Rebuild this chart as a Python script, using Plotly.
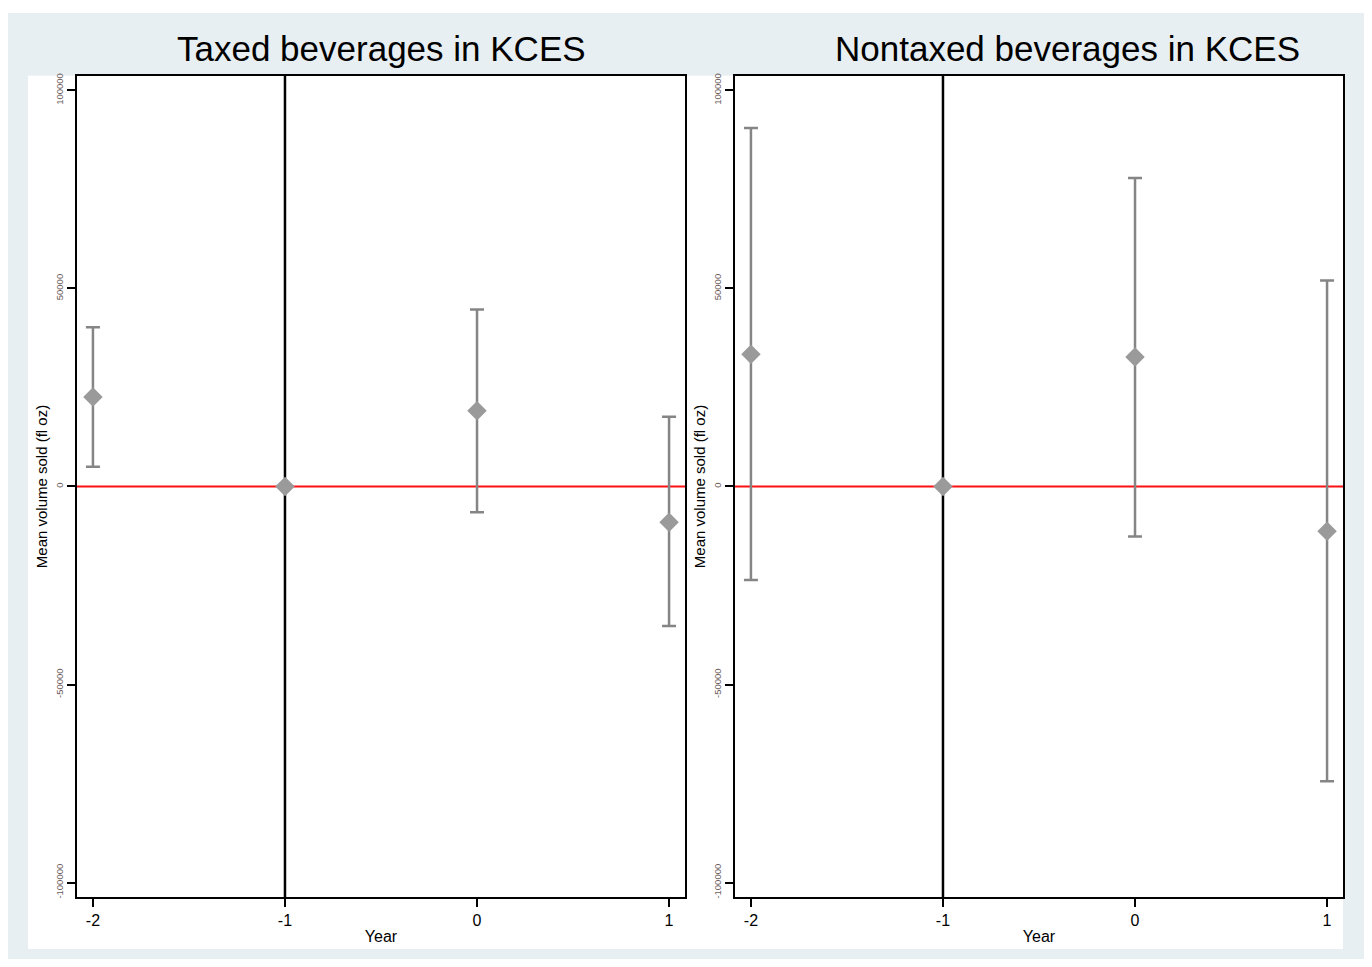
import plotly.graph_objects as go
from plotly.subplots import make_subplots

# ---- data ----
years = [-2, -1, 0, 1]
taxed_mean = [22600, 0, 19100, -9000]
taxed_upper = [40200, 0, 44700, 17600]
taxed_lower = [5000, 0, -6500, -35200]

nontaxed_mean = [33400, 0, 32700, -11300]
nontaxed_upper = [90500, 0, 77900, 52000]
nontaxed_lower = [-23600, 0, -12600, -74400]

titles = ["Taxed beverages in KCES", "Nontaxed beverages in KCES"]
y_ticks = [-100000, -50000, 0, 50000, 100000]
x_ticks = [-2, -1, 0, 1]

OFF = 8  # page body margin
W, H = 1372 - 2 * OFF, 967 - 2 * OFF
fig = make_subplots(rows=1, cols=2)

def px_x(p):
    return (p - OFF) / W

def px_y(p):
    return 1 - (p - OFF) / H

FONT = "Liberation Sans, Arial, sans-serif"

# background panels (drawn first so later shapes sit above them)
fig.add_shape(type="rect", xref="paper", yref="paper",
              x0=px_x(8), x1=px_x(1365), y0=px_y(965), y1=px_y(10),
              fillcolor="#e8eff2", line=dict(width=0), layer="below")
fig.add_shape(type="rect", xref="paper", yref="paper",
              x0=px_x(28), x1=px_x(1343), y0=px_y(950), y1=px_y(73),
              fillcolor="white", line=dict(width=0), layer="below")

panels = [
    (taxed_mean, taxed_upper, taxed_lower, (77, 685), 381),
    (nontaxed_mean, nontaxed_upper, nontaxed_lower, (735, 1343), 1067),
]

for i, (m, up, lo, (x0, x1), tx) in enumerate(panels):
    col = i + 1
    xs, ys, e_hi, e_lo = [], [], [], []
    for x, v, a, b in zip(years, m, up, lo):
        if a != b:
            xs.append(x); ys.append(v); e_hi.append(a - v); e_lo.append(v - b)
    fig.add_trace(go.Scatter(
        x=xs, y=ys, mode="markers",
        marker=dict(size=1, color="rgba(0,0,0,0)"),
        error_y=dict(type="data", array=e_hi, arrayminus=e_lo, symmetric=False,
                     color="#858585", thickness=2.5, width=7),
        showlegend=False, hoverinfo="skip"), row=1, col=col)
    fig.add_trace(go.Scatter(
        x=years, y=m, mode="markers",
        marker=dict(symbol="diamond", size=15, color="#9a9a9a", line=dict(width=0)),
        showlegend=False), row=1, col=col)

    axn = "" if col == 1 else str(col)
    fig.update_xaxes(domain=[px_x(x0), px_x(x1)], range=[-2.083, 1.083],
                     tickvals=x_ticks, ticktext=[str(t) for t in x_ticks],
                     ticks="outside", ticklen=8, tickwidth=1.5, tickcolor="black",
                     showline=True, mirror=True, linecolor="black", linewidth=2,
                     showgrid=False, zeroline=False,
                     tickfont=dict(family=FONT, size=16, color="black"),
                     title=dict(text="Year", standoff=2,
                                font=dict(family=FONT, size=16, color="black")),
                     row=1, col=col)
    fig.update_yaxes(domain=[px_y(898), px_y(73)], range=[-103700, 103700],
                     tickvals=y_ticks, ticktext=[str(t) for t in y_ticks],
                     tickangle=-90,
                     ticks="outside", ticklen=8, tickwidth=1.5, tickcolor="black",
                     showline=True, mirror=True, linecolor="black", linewidth=2,
                     showgrid=False, zeroline=False,
                     tickfont=dict(family=FONT, size=9.5, color="#6b5a5a"),
                     title=dict(text="Mean volume sold (fl oz)", standoff=3,
                                font=dict(family=FONT, size=15, color="black")),
                     row=1, col=col)
    fig.add_shape(type="line", xref=f"x{axn} domain", yref=f"y{axn}",
                  x0=0, x1=1, y0=0, y1=0, line=dict(color="#ff1010", width=2), layer="below")
    fig.add_shape(type="line", xref=f"x{axn}", yref=f"y{axn} domain",
                  x0=-1, x1=-1, y0=0, y1=1, line=dict(color="black", width=2.5), layer="below")
    fig.add_annotation(text=titles[i], xref="paper", yref="paper",
                       x=px_x(tx), y=px_y(46),
                       xanchor="center", yanchor="middle", showarrow=False,
                       font=dict(family=FONT, size=35, color="black"))

fig.update_layout(width=W, height=H, margin=dict(l=0, r=0, t=0, b=0),
                  paper_bgcolor="white", plot_bgcolor="rgba(0,0,0,0)",
                  showlegend=False)

fig.write_html("out.html")
